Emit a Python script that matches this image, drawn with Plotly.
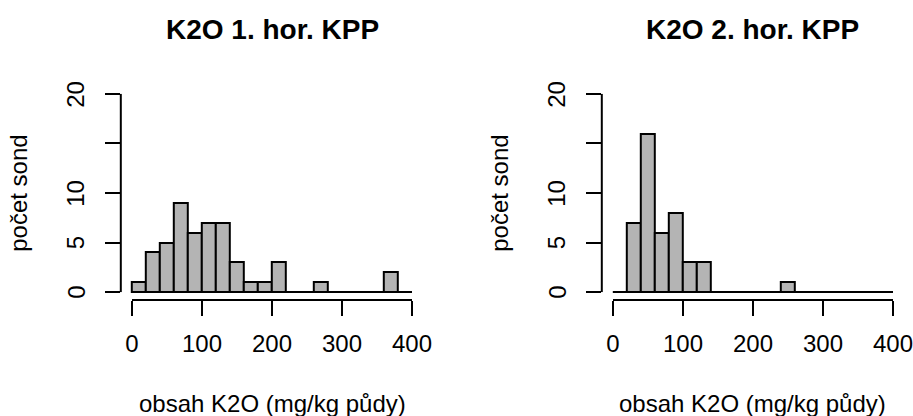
import plotly.graph_objects as go

# ---- data ----
bin_edges = list(range(0, 401, 20))
counts_h1 = [1, 4, 5, 9, 6, 7, 7, 3, 1, 1, 3, 0, 0, 1, 0, 0, 0, 0, 2, 0]
counts_h2 = [0, 7, 16, 6, 8, 3, 3, 0, 0, 0, 0, 0, 1, 0, 0, 0, 0, 0, 0, 0]
titles = ["K2O 1. hor. KPP", "K2O 2. hor. KPP"]
x_title = "obsah K2O (mg/kg půdy)"
y_title = "počet sond"
x_ticks = [0, 100, 200, 300, 400]
y_ticks = [0, 5, 10, 15, 20]
y_ticktext = ["0", "5", "10", "", "20"]

W, H = 913, 416
FONT = "Liberation Sans, Arial, sans-serif"
BAR_FILL = "#B4B4B4"

centers = [(a + b) / 2 for a, b in zip(bin_edges[:-1], bin_edges[1:])]
widths = [b - a for a, b in zip(bin_edges[:-1], bin_edges[1:])]

# R-style ranges with 4% padding
xr = [x_ticks[0] - 0.04 * (x_ticks[-1] - x_ticks[0]), x_ticks[-1] + 0.04 * (x_ticks[-1] - x_ticks[0])]
yr = [y_ticks[0] - 0.04 * (y_ticks[-1] - y_ticks[0]), y_ticks[-1] + 0.04 * (y_ticks[-1] - y_ticks[0])]

dom_x = [[120.8 / W, 423.2 / W], [601.8 / W, 904.2 / W]]
dom_y = [1 - 300 / H, 1 - 86 / H]

fig = go.Figure()
for i, counts in enumerate([counts_h1, counts_h2]):
    xa = "x" if i == 0 else "x2"
    ya = "y" if i == 0 else "y2"
    fig.add_trace(go.Bar(
        x=centers, y=counts, width=widths,
        marker=dict(color=BAR_FILL, line=dict(color="black", width=2)),
        xaxis=xa, yaxis=ya, showlegend=False, hoverinfo="x+y",
    ))
    # baseline for empty bins
    fig.add_trace(go.Scatter(
        x=[bin_edges[0], bin_edges[-1]], y=[0, 0], mode="lines",
        line=dict(color="black", width=2), xaxis=xa, yaxis=ya,
        showlegend=False, hoverinfo="skip",
    ))
    # axis lines spanning tick range
    fig.add_shape(type="line", xref=xa, yref=f"{ya} domain",
                  x0=x_ticks[0], x1=x_ticks[-1], y0=0, y1=0,
                  line=dict(color="black", width=2))
    fig.add_shape(type="line", xref=f"{xa} domain", yref=ya,
                  x0=0, x1=0, y0=y_ticks[0], y1=y_ticks[-1],
                  line=dict(color="black", width=2))
    # rotated y tick labels (R style, parallel to axis)
    for tv, tt in zip(y_ticks, y_ticktext):
        if tt:
            fig.add_annotation(text=tt, xref=f"{xa} domain", yref=ya, x=0, y=tv,
                               xshift=-45, textangle=-90, xanchor="center",
                               yanchor="middle", showarrow=False,
                               font=dict(family=FONT, size=24, color="black"))
    cx = (dom_x[i][0] + dom_x[i][1]) / 2
    fig.add_annotation(text=f"<b>{titles[i]}</b>", xref="paper", yref="paper",
                       x=cx, y=1 - 30 / H, xanchor="center", yanchor="middle",
                       showarrow=False, font=dict(family=FONT, size=28, color="black"))
    fig.add_annotation(text=x_title, xref="paper", yref="paper",
                       x=cx, y=1 - 403 / H, xanchor="center", yanchor="middle",
                       showarrow=False, font=dict(family=FONT, size=24, color="black"))
    fig.add_annotation(text=y_title, xref=f"{xa} domain", yref="paper", textangle=-90,
                       x=0, xshift=-103, y=(dom_y[0] + dom_y[1]) / 2,
                       xanchor="center", yanchor="middle",
                       showarrow=False, font=dict(family=FONT, size=24, color="black"))

axis_common = dict(showgrid=False, zeroline=False, showline=False, automargin=False,
                   ticks="outside", ticklen=15, tickwidth=2, tickcolor="black",
                   tickfont=dict(family=FONT, size=24, color="black"))

layout = dict(
    width=W, height=H, margin=dict(l=0, r=0, t=0, b=0, autoexpand=False),
    paper_bgcolor="white", plot_bgcolor="white", bargap=0,
    font=dict(family=FONT, color="black"),
)
for i in range(2):
    sx = "" if i == 0 else "2"
    layout[f"xaxis{sx}"] = dict(axis_common, domain=dom_x[i], range=xr,
                                tickvals=x_ticks, ticktext=[str(v) for v in x_ticks],
                                anchor=f"y{sx}", ticklabelstandoff=7,
                                ticklabeloverflow="allow")
    layout[f"yaxis{sx}"] = dict(axis_common, domain=dom_y, range=yr,
                                tickvals=y_ticks, showticklabels=False,
                                anchor=f"x{sx}")
fig.update_layout(**layout)
fig.write_html("out.html", config={"displayModeBar": False},
               post_script="document.body.style.margin='0';document.body.style.overflow='hidden';")
